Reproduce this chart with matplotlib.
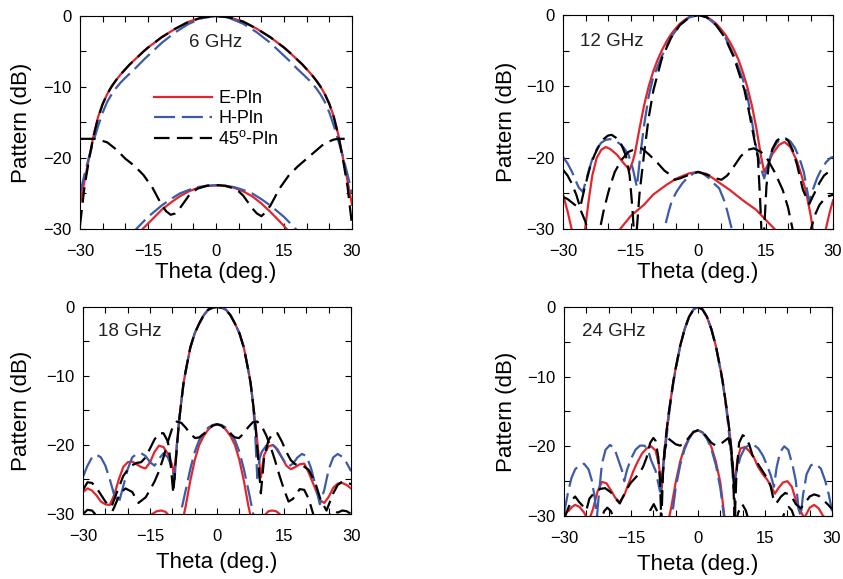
import matplotlib
matplotlib.use("Agg")
import matplotlib.pyplot as plt
from matplotlib.ticker import MultipleLocator

plt.rcParams["font.family"] = ["Liberation Sans", "DejaVu Sans"]
plt.rcParams["mathtext.fontset"] = "custom"
plt.rcParams["mathtext.rm"] = "Liberation Sans"

RED = "#e3262d"
BLUE = "#3c5ba8"
BLACK = "#000000"

# ---------------- 6 GHz ----------------
th6 = [-30, -29, -28, -27, -26, -25, -24, -23, -22, -21, -20, -19, -18, -17, -16, -15, -12, -9, -6, -3, 0,
       3, 6, 9, 12, 15, 16, 17, 18, 19, 20, 21, 22, 23, 24, 25, 26, 27, 28, 29, 30]
e6_co = [-26.4, -23.2, -20, -16.8, -14.2, -12.4, -11.0, -9.9, -9.0, -8.2, -7.5, -6.8, -6.2, -5.6, -5.0, -4.45,
         -3.0, -1.8, -0.8, -0.2, 0, -0.2, -0.8, -1.8, -3.0, -4.45, -5.0, -5.6, -6.2, -6.8, -7.5, -8.2, -9.0,
         -9.9, -11.0, -12.4, -14.2, -16.8, -20, -23.2, -26.6]
h6_co = [-25, -22.3, -19.8, -17.6, -15.5, -13.6, -12.1, -11.0, -10.1, -9.35, -8.7, -8.1, -7.5, -6.85, -6.2,
         -5.6, -3.8, -2.3, -1.1, -0.3, 0, -0.3, -1.1, -2.3, -3.8, -5.6, -6.2, -6.85, -7.5, -8.1, -8.7, -9.35,
         -10.1, -11.0, -12.1, -13.6, -15.5, -17.6, -19.8, -22.3, -25]
x6_co = [-29.5, -24, -20.2, -16.9, -14.3, -12.4, -11.0, -9.9, -9.0, -8.2, -7.5, -6.8, -6.2, -5.6, -5.0, -4.45,
         -3.0, -1.8, -0.8, -0.2, 0, -0.2, -0.8, -1.8, -3.0, -4.45, -5.0, -5.6, -6.2, -6.8, -7.5, -8.2, -9.0,
         -9.9, -11.0, -12.4, -14.3, -16.9, -20.2, -24, -29.5]
th6_xc = [-30, -28, -27, -26, -24, -22, -20, -18, -16, -14, -12, -11, -10, -9, -8, -7, -6, -5, -4, -2, 0,
          2, 4, 5, 6, 7, 8, 9, 10, 11, 12, 14, 16, 18, 20, 22, 24, 26, 27, 28, 30]
x6_cx = [-17.3, -17.3, -17.3, -17.4, -17.8, -18.8, -20.1, -21.1, -22.4, -24.2, -26.6, -27.5, -28, -27.8, -27.1,
         -26.2, -25.3, -24.7, -24.3, -23.9, -23.8, -23.9, -24.3, -24.7, -25.3, -26.2, -27.1, -27.8, -28.2, -27.6,
         -26.7, -24.3, -22.5, -21.2, -20.1, -19, -17.9, -17.4, -17.3, -17.3, -17.3]
th6_ec = [-17, -16.2, -14, -12, -10, -8, -6, -4, -2, 0, 2, 4, 6, 8, 10, 12, 14, 15.6, 16.5]
e6_cx = [-31, -30, -28.6, -27.3, -26.3, -25.4, -24.7, -24.2, -23.95, -23.85, -23.95, -24.2, -24.7, -25.4, -26.4,
         -27.6, -28.9, -30, -31]
th6_hc = [-18.5, -17.6, -15, -12, -10, -8, -6, -4, -2, 0, 2, 4, 6, 8, 10, 12, 15, 17.6, 18.5]
h6_cx = [-31, -30, -28.3, -26.7, -25.8, -25, -24.5, -24.1, -23.9, -23.85, -23.9, -24.1, -24.5, -25, -25.8, -26.7,
         -28.3, -30, -31]

# ---------------- 12 GHz ----------------
th12_e = [-30, -29, -28.1, -27, -26, -25.1, -24.3, -23.5, -22.5, -21.5, -20.5, -19.5, -18, -16.5, -15.2, -14.5,
          -14, -13, -12, -11, -10, -9, -8, -7, -6, -5, -4, -3, -2, -1, 0, 1, 2, 3, 4, 5, 6, 7, 8, 9, 10, 11, 12,
          13, 14, 14.7, 15.5, 16.5, 18, 19.2, 20.5, 22, 23, 24, 25, 25.5, 26.5, 27.5, 28.4, 29.2, 30]
e12_co = [-25.2, -27.5, -30, -33, -33, -30, -26, -22.5, -20, -18.9, -18.5, -18.8, -19.6, -20.8, -21.7, -20.5,
          -19.3, -15.9, -12.7, -10.1, -8.0, -6.3, -4.9, -3.7, -2.7, -1.9, -1.2, -0.7, -0.3, -0.1, 0, -0.1, -0.3,
          -0.7, -1.2, -1.9, -2.7, -3.7, -4.9, -6.3, -8.1, -10.2, -12.8, -16, -19.8, -22, -21, -19.5, -18.2, -17.8,
          -18.5, -20.5, -22.5, -24.8, -28, -30, -33, -33, -30, -27.8, -26]
th12_h = [-30, -29, -28, -27, -26.5, -25.6, -24.5, -23.5, -22.5, -21.5, -20.5, -19.5, -18.5, -17.5, -16.5, -15.5,
          -14.5, -13.6, -12.8, -12, -11, -10, -8, -6, -4, -2, 0, 2, 4, 6, 8, 10, 11, 12, 13, 14, 14.7, 15.5, 16.5,
          17.5, 18.5, 19.5, 20.5, 21.5, 22.5, 23.5, 24.7, 25.5, 26.5, 27.5, 28.5, 29.5, 30]
h12_co = [-19.9, -20.8, -22, -23.5, -24.2, -24.8, -22.3, -20.2, -18.8, -17.9, -17.5, -17.4, -17.6, -18, -18.6,
          -19.5, -21.5, -24.1, -19.5, -15.5, -11.5, -8.8, -5.7, -3.1, -1.4, -0.35, 0, -0.35, -1.4, -3.1, -5.7,
          -9.1, -11.5, -15, -18.8, -21.5, -22.9, -21, -19, -17.9, -17.4, -17.3, -17.7, -18.6, -20, -22, -26.2,
          -24.5, -22.8, -21.5, -20.6, -20, -19.9]
th12_x = [-30, -29, -28, -27, -26.2, -25.3, -24, -23, -22, -21, -20, -19.2, -18, -17, -16, -15.2, -14.6, -14.1,
          -13.6, -13, -12, -11, -9.9, -8, -6, -4, -2, 0, 2, 4, 6, 8, 10.3, 11.3, 12.3, 13.3, 13.8, 14.2, 14.7,
          15.2, 15.8, 16.5, 17.5, 18.8, 20, 21, 22, 23.3, 24.7, 26, 27, 28, 29, 30]
x12_co = [-21.7, -22.5, -23.7, -25.3, -27, -24.5, -21.3, -19.6, -18.3, -17.4, -16.9, -16.8, -17.3, -18.2, -19.8,
          -22.5, -27, -32, -30, -25, -19.5, -14.5, -10.5, -6, -3.2, -1.4, -0.35, 0, -0.35, -1.4, -3.2, -6, -10.5,
          -13.5, -16.8, -20, -26, -32, -30, -24, -20.5, -18.8, -17.6, -17.1, -17.6, -18.9, -21, -24.5, -26.5,
          -24.8, -23.5, -22.5, -22, -21.7]
th12_xc = [-30, -29, -28, -27, -26.2, -25, -24.3, -23.5, -22.5, -21.8, -21, -20, -19.6, -18.5, -17, -15.5, -14,
           -12.5, -11, -9.2, -7.5, -6.2, -5.2, -4, -2, 0, 2, 4, 5.2, 6.5, 8, 9.5, 11, 12.4, 14, 15.5, 17, 18.8,
           20, 21, 22, 23, 24, 25.1, 26, 27, 28.5, 30]
x12_cx = [-25.5, -25.8, -26.3, -26.8, -27.2, -29, -31, -33, -32, -30, -27.5, -25, -24.1, -22, -20.3, -19.2,
          -18.8, -18.7, -19.5, -20.6, -21.8, -22.4, -23.1, -22.9, -22.4, -22, -22.4, -22.9, -23.1, -22.5, -21.2,
          -19.8, -18.9, -18.7, -19.2, -20.3, -22, -24.5, -27, -30, -32, -33, -32, -30, -28, -26.6, -25.5, -25.2]
th12_ec = [-18, -17.3, -15, -12, -10, -7, -4.7, -2, 0, 2, 4.7, 7, 10, 12.9, 15, 17, 18]
e12_cx = [-31, -30, -28.2, -26.6, -25.2, -23.8, -22.9, -22.2, -22, -22.3, -23.5, -24.5, -26, -27.3, -28.7, -30, -31]
th12_hc = [-8.2, -7.5, -6.5, -5.8, -4.7, -3.5, -2.5, -1, 0, 1, 2.5, 3.5, 4.7, 5.8, 6.5, 7.5, 8.2]
h12_cx = [-33, -30, -27.5, -26, -24.7, -23.6, -22.9, -22.2, -22, -22.2, -22.9, -23.6, -24.3, -26, -27.5, -30, -33]

# ---------------- 18 GHz ----------------
th18_e = [-30, -29, -28, -27, -26, -25, -24, -23, -22, -21, -20, -19, -18, -17, -16, -15, -14, -13, -12, -11, -10,
          -9.6, -9, -8.5, -8, -7.5, -7, -6, -5, -4, -3, -2, -1, 0, 1, 2, 3, 4, 5, 6, 7, 7.5, 8, 8.5, 9, 9.5, 9.8,
          10.5, 11.5, 12.5, 13.5, 14.5, 15.5, 16.5, 17.5, 18.5, 19.5, 20.5, 21.7, 23, 24, 25, 26, 27, 28, 29, 30]
e18_co = [-26.8, -26.3, -26.6, -27.3, -28.2, -28.6, -28.7, -27.2, -25, -23.2, -22.5, -22.4, -22.8, -23.2, -23.4,
          -22.5, -21, -20.1, -20.3, -21.3, -23, -24.6, -20, -16.5, -13.7, -11, -9.2, -5.9, -3.8, -2.4, -1.2, -0.4,
          -0.1, 0, -0.1, -0.4, -1.2, -2.4, -3.8, -5.9, -9.2, -11, -13.7, -16.5, -19.5, -22.8, -24.7, -21.5, -20.2,
          -20, -20.6, -21.8, -23, -23.5, -23.2, -22.8, -22.7, -24, -25.9, -28, -28.4, -27.5, -26.2, -25.6, -25.5,
          -25.8, -26.3]
th18_h = [-30, -29, -28, -27, -26, -25, -24, -23, -22, -21, -20, -19, -18, -17, -16, -15, -14, -13, -12, -11, -10,
          -9.5, -9, -8.5, -8, -7.5, -7, -6, -5, -4, -3, -2, -1, 0, 1, 2, 3, 4, 5, 6, 7, 7.5, 8, 8.5, 9, 9.5,
          10, 11, 12, 13, 14, 15, 16, 17, 18, 19, 20, 21, 22, 23, 24, 25, 26, 27, 28, 29, 30]
h18_co = [-24.6, -23, -21.8, -21.4, -21.8, -23, -25, -27.3, -28.4, -26, -23.5, -21.8, -21.3, -21.2, -21.6, -22.5,
          -23, -22, -21.2, -21.8, -23.5, -25, -20, -16.5, -13.7, -11, -9.2, -5.9, -3.8, -2.4, -1.2, -0.4, -0.1, 0,
          -0.1, -0.4, -1.2, -2.4, -3.8, -5.9, -9.2, -11, -13.7, -18, -24.8, -22, -21, -20.1, -19.8, -20.3, -21.3,
          -22.3, -23.1, -22.7, -21.8, -21.3, -21.6, -23.3, -25.8, -28.6, -26.5, -23.5, -21.8, -21.3, -21.7, -22.6,
          -23.8]
th18_x = [-30, -29, -28, -27, -26, -25, -24, -23.6, -22.5, -21, -19.5, -18, -17, -16, -15, -14, -13, -12, -11,
          -10.5, -9.8, -9.2, -8.5, -8, -7.5, -7, -6, -5, -4, -3, -2, -1, 0, 1, 2, 3, 4, 5, 6, 7, 7.5, 8, 8.5, 9.2,
          9.8, 10.5, 11.5, 12.5, 13.5, 14.5, 15.5, 16.5, 17.5, 19, 20.5, 22, 23.2, 24.5, 26, 27, 28, 29, 30]
x18_co = [-26.5, -25.4, -25.5, -26.2, -27.2, -28.2, -28.9, -28.9, -27, -24.5, -23.1, -22.6, -22.5, -21.8, -20.5,
          -19.2, -18.3, -18.3, -19.5, -22, -27, -22, -16.5, -13.7, -11, -9.2, -5.9, -3.8, -2.4, -1.2, -0.4, -0.1,
          0, -0.1, -0.4, -1.2, -2.4, -3.8, -5.9, -9.2, -11, -13.7, -16.5, -22, -27, -22, -19.3, -18.3, -18.3,
          -19.5, -21, -22.2, -22.8, -22.9, -23.6, -25.5, -28, -29.5, -27, -25.8, -25.3, -25.4, -25.7]
th18_xc = [-30, -29, -28, -27, -26, -24.5, -23, -21.7, -20.5, -19, -17.6, -16, -15, -14, -13, -12, -11, -10, -9,
           -8, -7, -6, -4.9, -4, -3, -2, -1, 0, 1, 2, 3, 4, 4.9, 6, 7, 8, 9, 10, 11, 12, 13, 14, 15, 16, 17, 18.5,
           19.5, 20.5, 21.7, 23, 24.5, 26, 27, 28, 29, 30]
x18_cx = [-30, -29.4, -29.5, -30.2, -31.5, -31, -29, -27, -26.3, -26.8, -28.4, -27.6, -26.5, -25.3, -23.8, -21.8,
          -19.5, -17.5, -16.6, -16.8, -17.5, -18.4, -19, -18.9, -18.4, -17.8, -17.2, -17, -17.2, -17.8, -18.4,
          -18.9, -19, -18.3, -17.4, -16.7, -16.6, -17.3, -18.6, -20.3, -22.3, -24.5, -26.5, -28.2, -27.8, -26.4,
          -26.5, -27.8, -30.4, -31.5, -31, -29.5, -29.8, -29.5, -29.6, -30]
th18_ec = [-16, -14.5, -13.5, -12.5, -11.5, -10.5, -9.5, -8.5, -7.4, -7, -6, -5, -4, -3, -2, -1, 0, 1, 2, 3, 4, 5,
           6, 7, 7.4, 8.5, 9.5, 10.5, 11.5, 12.3, 13.2, 14, 15]
e18_cx = [-31.5, -30, -29.6, -29.5, -29.7, -30.5, -32, -33, -30, -28.8, -25.2, -22.2, -20, -18.7, -17.8, -17.2,
          -17, -17.2, -17.8, -18.7, -20, -22.2, -25.2, -28.8, -30, -33, -32, -30.3, -29.6, -29.5, -29.6, -30, -31.5]
th18_hc = [-9, -8.2, -7, -6, -5, -4, -3, -2, -1, 0, 1, 2, 3, 4, 5, 6, 7, 8.1, 9]
h18_cx = [-33, -30, -26.5, -23.5, -21, -19.3, -18.2, -17.5, -17.1, -17, -17.1, -17.5, -18.2, -19.3, -21, -23.5,
          -26.5, -30, -33]

# ---------------- 24 GHz ----------------
th24_e = [-30, -29, -28.2, -27.5, -26.5, -25.5, -24.5, -23.5, -22.5, -21.5, -20.5, -19.5, -18.5, -17.5, -16.5,
          -15.5, -14.5, -13.5, -12.5, -11.5, -10.5, -9.5, -8.8, -8.1, -7.8, -7.4, -7, -6.5, -6, -5.5, -5, -4, -3,
          -2, -1, 0, 1, 2, 3, 4, 5, 5.5, 6, 6.5, 7, 7.4, 7.8, 8.1, 8.8, 9.5, 10.5, 11.5, 12.5, 13.5, 14.5, 15.5,
          16.5, 17.2, 18, 19, 20, 21, 21.8, 22.7, 23.8, 25, 26, 27, 28, 29, 30]
e24_co = [-29.5, -29.3, -28.7, -28.4, -28.7, -29.5, -30.8, -29, -26.5, -25.1, -25.3, -26.3, -27.4, -28, -27,
          -25.3, -23.6, -22.2, -21, -20.3, -20, -20.6, -22.5, -26, -22.8, -20, -17.6, -15, -12.8, -10.6, -8.8,
          -5.6, -3.2, -1.4, -0.35, 0, -0.35, -1.4, -3.2, -5.6, -8.8, -10.6, -12.8, -15, -17.6, -20, -22.8, -26,
          -22, -20.3, -20.1, -20.7, -21.6, -23, -24, -24.8, -25.9, -26.8, -26, -25.2, -25, -25.8, -27.5, -29,
          -30.3, -28.8, -28.4, -28.9, -30, -30.4, -30.5]
th24_h = [-30, -29.5, -29, -28.3, -27.5, -26.5, -25.5, -24.5, -23.8, -23.2, -22.6, -22.2, -21.5, -20.7, -19.7,
          -18.7, -17.8, -17, -16.5, -15.9, -15, -14, -13, -12, -11.2, -10.5, -9.5, -8.5, -8, -7.5, -7, -6.5, -6,
          -5.5, -5, -4, -3, -2, -1, 0, 1, 2, 3, 4, 5, 5.5, 6, 6.5, 7, 7.5, 8, 8.5, 9.5, 10.5, 11.5, 12.5, 13.5,
          14.5, 15.5, 16.3, 17, 17.6, 18.4, 19.3, 20.2, 21.2, 21.9, 22.5, 23, 23.5, 24.3, 25.3, 26.3, 27.5, 28.5,
          29.3, 30]
h24_co = [-29.7, -28, -26.3, -24.5, -23.3, -22.7, -22.5, -23.3, -24.8, -27, -30, -27, -22.5, -20.5, -19.8,
          -20.3, -22, -23.5, -25, -23.4, -21.8, -20.5, -19.9, -19.9, -20.5, -22, -23.5, -26.5, -24.5, -21, -18.5,
          -15.5, -13, -10.8, -9, -5.7, -3.2, -1.4, -0.35, 0, -0.35, -1.4, -3.2, -5.7, -9, -10.8, -13, -15.5,
          -18.5, -22, -26, -24, -21.5, -20.2, -19.8, -19.8, -20.3, -21.3, -22.8, -24.2, -25.8, -23, -20.8, -20,
          -20.5, -22.8, -25, -29, -30, -27, -24, -22.7, -22.5, -23.2, -25, -27, -29.3]
th24_x = [-30, -29, -28.2, -27.5, -26.6, -25.6, -25, -24.3, -23, -21.8, -20.8, -19.5, -18.2, -17.5, -17, -16, -15,
          -14, -13, -12.2, -11.5, -10.7, -10, -9.5, -8.9, -8.5, -8.2, -7.8, -7.4, -7, -6.5, -6, -5.5, -5, -4, -3,
          -2, -1, 0, 1, 2, 3, 4, 5, 5.5, 6, 6.5, 7, 7.4, 7.8, 8.2, 8.6, 9.2, 10, 10.7, 11.5, 12.2, 13.5, 14.5,
          15.5, 16.2, 16.8, 17.5, 18.6, 19.5, 20.4, 21.2, 21.9, 23, 24, 25, 26, 27, 28, 29, 30]
x24_co = [-30.5, -28.8, -27.7, -27.2, -28, -28.7, -29.2, -27.5, -26.5, -26.1, -26, -26.6, -27.7, -28.2, -27.5,
          -26.2, -25.2, -24.5, -23.8, -22.8, -21.6, -19.5, -18.8, -19.2, -21.5, -25, -31, -23, -20, -17.6, -15,
          -12.8, -10.6, -8.8, -5.6, -3.2, -1.4, -0.35, 0, -0.35, -1.4, -3.2, -5.6, -8.8, -10.6, -12.8, -15,
          -17.6, -20, -23, -31, -24, -19.5, -18.4, -18.7, -19.8, -21.3, -22.6, -23.6, -24.6, -25.6, -27.3, -28.2,
          -27.2, -26.7, -26.9, -27.5, -28.3, -28.9, -28.1, -27.2, -26.9, -27.1, -27.7, -28.3, -29]
th24_xc = [-30, -22, -21, -20.3, -19.5, -18.5, -11.5, -10.7, -9.9, -9, -8.4, -8, -7.4, -6.8, -6, -5, -4, -3, -2,
           -1, 0, 1, 2, 3, 4, 5, 6, 6.8, 7.4, 8, 8.4, 9, 9.9, 10.7, 11.5, 18.5, 19.5, 20.3, 21, 22, 30]
x24_cx = [-31, -31, -29.3, -28.8, -29.3, -31, -31, -29.2, -28.3, -29.5, -31, -25, -20.5, -18.8, -19.2, -19.7,
          -19.9, -19.5, -18.7, -17.9, -17.7, -17.9, -18.7, -19.5, -19.9, -19.7, -19.2, -18.8, -20.5, -25, -31,
          -29.5, -28.3, -29.2, -31, -31, -29.3, -28.7, -29.2, -31, -31]
th24_ec = [-7, -6.4, -6, -5, -4, -3, -2, -1, 0, 1, 2, 3, 4, 5, 5.9, 6.5]
e24_cx = [-33, -30, -28.8, -25.2, -22.2, -20.1, -18.8, -18, -17.7, -18, -18.8, -20.1, -22.2, -25.2, -30, -33]
th24_hc = [-6.5, -5.8, -5, -4, -3, -2, -1, 0, 1, 2, 3, 4, 5, 5.8, 6.5]
h24_cx = [-33, -30, -26, -22.7, -20.4, -18.9, -18, -17.7, -18, -18.9, -20.4, -22.7, -26, -30, -33]

E_STYLE = dict(color=RED, lw=1.6, ls="-")
H_STYLE = dict(color=BLUE, lw=1.6, ls=(0, (9.5, 3)))
X_STYLE = dict(color=BLACK, lw=1.6, ls=(0, (7, 3.3)))


def draw_panel(ax, e_curves, h_curves, x_curves, freq_text, text_xy, xlab_y, ylab_x):
    lines = []
    for th, val in e_curves:
        lines.append(ax.plot(th, val, **E_STYLE)[0])
    for th, val in h_curves:
        lines.append(ax.plot(th, val, **H_STYLE)[0])
    for th, val in x_curves:
        lines.append(ax.plot(th, val, **X_STYLE)[0])
    ax.set_xlim(-30, 30)
    ax.set_ylim(-30, 0)
    ax.xaxis.set_major_locator(MultipleLocator(15))
    ax.xaxis.set_minor_locator(MultipleLocator(5))
    ax.yaxis.set_major_locator(MultipleLocator(10))
    ax.yaxis.set_minor_locator(MultipleLocator(5))
    ax.tick_params(which="both", direction="in", top=True, right=True, length=4, width=0.8)
    ax.tick_params(axis="x", labelsize=12, pad=11)
    ax.tick_params(axis="y", labelsize=12, pad=6)
    for sp in ax.spines.values():
        sp.set_linewidth(0.8)
    ax.set_xlabel("Theta (deg.)", fontsize=16)
    ax.set_ylabel("Pattern (dB)", fontsize=16)
    ax.xaxis.set_label_coords(0.5, xlab_y)
    ax.yaxis.set_label_coords(ylab_x, 0.5)
    ax.text(text_xy[0], text_xy[1], freq_text, transform=ax.transAxes, fontsize=13.5,
            color="#222222", ha=text_xy[2], va="center")
    return lines


fig = plt.figure(figsize=(8.43, 5.79), dpi=100)

ax1 = fig.add_axes([0.0949, 0.6045, 0.3227, 0.3679])
lines = draw_panel(ax1, [(th6, e6_co), (th6_ec, e6_cx)], [(th6, h6_co), (th6_hc, h6_cx)],
                   [(th6, x6_co), (th6_xc, x6_cx)], "6 GHz", (0.5, 0.875, "center"), -0.155, -0.178)
ax1.legend([lines[0], lines[2], lines[4]], ["E-Pln", "H-Pln", "45$^{\\rm o}$-Pln"],
           loc="upper left", bbox_to_anchor=(0.272, 0.652), frameon=False, fontsize=13,
           handlelength=3.2, handletextpad=0.35, labelspacing=0.17, borderpad=0, borderaxespad=0)

ax2 = fig.add_axes([0.6679, 0.6045, 0.3203, 0.3696])
draw_panel(ax2, [(th12_e, e12_co), (th12_ec, e12_cx)], [(th12_h, h12_co), (th12_hc, h12_cx)],
           [(th12_x, x12_co), (th12_xc, x12_cx)], "12 GHz", (0.063, 0.876, "left"), -0.155, -0.171)

ax3 = fig.add_axes([0.0985, 0.1123, 0.318, 0.3575])
draw_panel(ax3, [(th18_e, e18_co), (th18_ec, e18_cx)], [(th18_h, h18_co), (th18_hc, h18_cx)],
           [(th18_x, x18_co), (th18_xc, x18_cx)], "18 GHz", (0.056, 0.88, "left"), -0.183, -0.191)

ax4 = fig.add_axes([0.669, 0.1088, 0.318, 0.361])
draw_panel(ax4, [(th24_e, e24_co), (th24_ec, e24_cx)], [(th24_h, h24_co), (th24_hc, h24_cx)],
           [(th24_x, x24_co), (th24_xc, x24_cx)], "24 GHz", (0.066, 0.883, "left"), -0.18, -0.176)

fig.savefig("out.png", dpi=100)
